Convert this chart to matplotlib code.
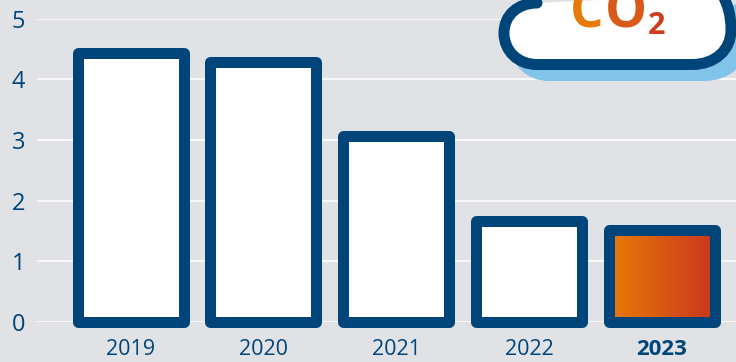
import numpy as np
import matplotlib
matplotlib.use("Agg")
import matplotlib.pyplot as plt
from matplotlib.colors import LinearSegmentedColormap
from matplotlib.path import Path
from matplotlib.patches import PathPatch
from matplotlib.transforms import Affine2D

years = ["2019", "2020", "2021", "2022", "2023"]
values = [4.43, 4.29, 3.06, 1.66, 1.51]
y_ticks = [0, 1, 2, 3, 4, 5]

W, H = 736, 362
BG = "#E1E2E6"
NAVY = "#00457A"
SKY = "#82C3EA"
ORANGE = "#E87B08"
RED = "#C9361E"
PX = 72 / 100  # points per pixel at dpi 100
X0 = 130.7  # pixel centre of the first bar
STEP = 132.75  # pixels between neighbouring bars

plt.rcParams["font.family"] = ["Open Sans", "DejaVu Sans"]

fig = plt.figure(figsize=(W / 100, H / 100), dpi=100, facecolor=BG)
# plot area spans from the 0 gridline up to the 5 gridline
ax = fig.add_axes([37 / W, (H - 322) / H, (W - 37) / W, (322 - 18.5) / H])
ax.set_facecolor("none")
for s in ax.spines.values():
    s.set_visible(False)

ax.set_yticks(y_ticks)
ax.grid(axis="y", color="white", lw=1.6 * PX, zorder=0)
ax.set_axisbelow(True)
ax.tick_params(axis="both", length=0, labelcolor=NAVY)
ax.tick_params(axis="y", pad=8.5, labelsize=17)
ax.tick_params(axis="x", pad=12.5, labelsize=15.5)

x = np.arange(len(years))
colors = ["white"] * 4 + ["none"]
bars = ax.bar(x, values, width=106 / STEP, color=colors, edgecolor=NAVY,
              lw=11 * PX, joinstyle="round", clip_on=False, zorder=3)

# latest year is filled with a horizontal orange-to-red gradient
last = bars[-1]
ramp = LinearSegmentedColormap.from_list("co2", [ORANGE, RED])
ax.imshow(np.linspace(0, 1, 256)[None, :], cmap=ramp, aspect="auto", zorder=2,
          extent=[last.get_x(), last.get_x() + last.get_width(), 0, last.get_height()])
ax.set_xlim((37 - X0) / STEP, (W - X0) / STEP)
ax.set_ylim(0, 5)

ax.set_xticks(x, years)
bold_label = ax.get_xticklabels()[-1]
bold_label.set_fontweight("bold")
bold_label.set_fontsize(16)

# cloud badge, described in pixels from the top-left corner
to_px = Affine2D().scale(1, -1).translate(0, H)
cloud_codes = [Path.MOVETO, Path.CURVE4, Path.CURVE4, Path.CURVE4,
               Path.CURVE4, Path.CURVE4, Path.CURVE4, Path.LINETO,
               Path.CURVE4, Path.CURVE4, Path.CURVE4,
               Path.CURVE4, Path.CURVE4, Path.CURVE4]
cloud_pts = [(537, 3), (518, 3), (504, 15), (504, 33),
             (504, 51), (518, 64.5), (537, 64.5), (692, 64.5),
             (715, 64.5), (731, 50), (731, 30),
             (731, 15), (728, 5), (722, -6)]
cloud = Path(cloud_pts, cloud_codes)

fig.add_artist(PathPatch(cloud, transform=Affine2D().translate(12, 11) + to_px,
                         facecolor=SKY, edgecolor=SKY, lw=11 * PX, zorder=5))
fig.add_artist(PathPatch(cloud, transform=to_px, facecolor="white", edgecolor="none", zorder=6))
fig.add_artist(PathPatch(cloud, transform=to_px, facecolor="none", edgecolor=NAVY,
                         lw=11 * PX, capstyle="round", zorder=7))

for ch, px, py, size, col in [("C", 587, 28, 38, "#E67A0A"),
                              ("O", 626, 28, 38, "#D9591A"),
                              ("2", 657, 34.5, 22, "#CD3D1E")]:
    fig.text(px / W, (H - py) / H, ch, ha="center", va="baseline", fontsize=size,
             fontweight="bold", color=col, zorder=8)

fig.savefig("out.png", dpi=100, facecolor=BG)
